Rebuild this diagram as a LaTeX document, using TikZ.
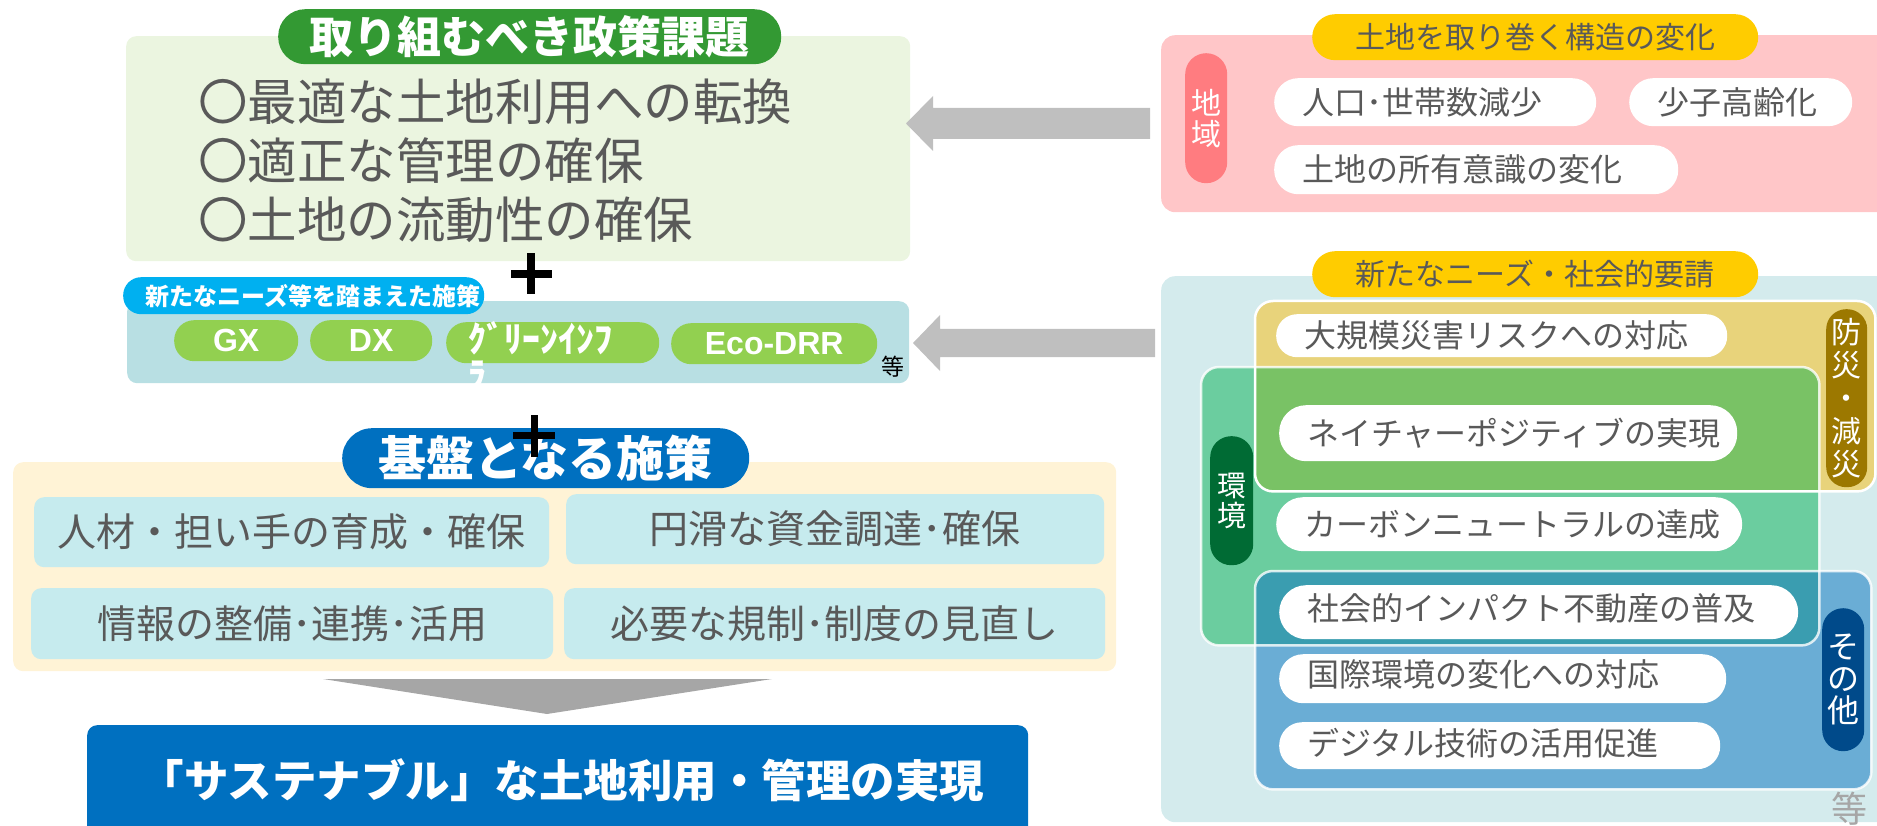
\documentclass[tikz,border=0pt]{standalone}
\usepackage{fontspec}
\setmainfont{Noto Sans CJK JP}
\newfontfamily\lat{Liberation Sans}
\usetikzlibrary{calc}
\definecolor{titlegreen}{HTML}{339933}
\definecolor{lgreen}{HTML}{EBF5E0}
\definecolor{gtext}{HTML}{595959}
\definecolor{skyblue}{HTML}{00B0F0}
\definecolor{bgteal}{HTML}{B8DFE3}
\definecolor{lime}{HTML}{92D050}
\definecolor{cream}{HTML}{FFF3D6}
\definecolor{cyanbox}{HTML}{C6EBEE}
\definecolor{dblue}{HTML}{0070C0}
\definecolor{pinkbox}{HTML}{FFC6C8}
\definecolor{ypill}{HTML}{FFCC00}
\definecolor{rpill}{HTML}{FF7C80}
\definecolor{rteal}{HTML}{D4EBED}
\definecolor{ybox}{HTML}{E8D37B}
\definecolor{gbox}{HTML}{6BCD9F}
\definecolor{ovg}{HTML}{79C265}
\definecolor{bbox}{HTML}{6AADD5}
\definecolor{ovb}{HTML}{3A9DB0}
\definecolor{gold}{HTML}{9C7800}
\definecolor{dgreen}{HTML}{006B34}
\definecolor{navy}{HTML}{004A8A}
\definecolor{arrgray}{HTML}{BFBFBF}
\definecolor{trigray}{HTML}{A6A6A6}
\newcommand\fsz[1]{\fontsize{#1}{#1}\selectfont}
\begin{document}
\begin{tikzpicture}[x=1pt,y=-1pt,
  box/.style={rectangle, draw=none, rounded corners=10pt, inner sep=0pt, anchor=north west},
  pill/.style={rectangle, draw=none, rounded corners=#1, inner sep=0pt, anchor=north west},
  txt/.style={inner sep=0pt, text=gtext},
  wtxt/.style={inner sep=0pt, text=white},
  plusbar/.style={fill=black},
  blockarrow/.style={fill=arrgray, draw=none},
  vlab/.style={inner sep=0pt, text=white, align=center},
]
\useasboundingbox (0,0) rectangle (1877,826);

% ---------------- left: policy issues ----------------
\node[box, fill=lgreen, minimum width=784pt, minimum height=225pt] (goal) at (126,36) {};
\node[pill=27pt, fill=titlegreen, minimum width=503pt, minimum height=55pt] (goalt) at (278,9) {};
\node[wtxt, font=\fsz{44}\bfseries] at (goalt.center) {取り組むべき政策課題};
\node[txt, anchor=west, font=\fsz{49.5}] (g1) at (198,102) {〇最適な土地利用への転換};
\node[txt, anchor=west, font=\fsz{49.5}] (g2) at (198,161) {〇適正な管理の確保};
\node[txt, anchor=west, font=\fsz{49.5}] (g3) at (198,220) {〇土地の流動性の確保};

% plus 1
\fill[plusbar] (511,270) rectangle (552,278);
\fill[plusbar] (527,253) rectangle (535,294);

% new needs measures
\node[box, fill=bgteal, minimum width=782pt, minimum height=82pt] (needs) at (127,301) {};
\node[pill=18pt, fill=skyblue, minimum width=361pt, minimum height=37pt] (needst) at (123,277) {};
\node[wtxt, anchor=west, font=\fsz{24}\bfseries] at ($(needst.west)+(22,0)$) {新たなニーズ等を踏まえた施策};
\node[pill=20pt, fill=lime, minimum width=124pt, minimum height=41pt] (gx) at (174,320) {};
\node[wtxt, font=\lat\fsz{32}\bfseries] at (gx.center) {GX};
\node[pill=20pt, fill=lime, minimum width=122pt, minimum height=41pt] (dx) at (310,320) {};
\node[wtxt, font=\lat\fsz{32}\bfseries] at (dx.center) {DX};
\node[pill=20pt, fill=lime, minimum width=213pt, minimum height=41pt] (gi) at (446,322) {};
\node[wtxt, anchor=north west, align=left, font=\fsz{36}\bfseries] at (468,321) {\fontsize{36}{31}\selectfont ｸﾞﾘｰﾝｲﾝﾌ\\ﾗ};
\node[pill=20pt, fill=lime, minimum width=206pt, minimum height=41pt] (eco) at (671,323) {};
\node[wtxt, font=\lat\fsz{32}\bfseries] at (eco.center) {Eco-DRR};
\node[inner sep=0pt, font=\fsz{23}] at (893,367) {等};

% base measures
\node[box, fill=cream, minimum width=1103pt, minimum height=209pt] (base) at (13,462) {};
\node[box, fill=cyanbox, minimum width=515pt, minimum height=70pt] (b1) at (34,497) {};
\node[box, fill=cyanbox, minimum width=538pt, minimum height=70pt] (b2) at (566,494) {};
\node[box, fill=cyanbox, minimum width=522pt, minimum height=71pt] (b3) at (31,588) {};
\node[box, fill=cyanbox, minimum width=541pt, minimum height=71pt] (b4) at (564,588) {};
\node[txt, font=\fsz{39}] at (b1.center) {人材・担い手の育成・確保};
\node[txt, font=\fsz{39}] at (b2.center) {円滑な資金調達･確保};
\node[txt, font=\fsz{39}] at (b3.center) {情報の整備･連携･活用};
\node[txt, font=\fsz{39}] at (b4.center) {必要な規制･制度の見直し};
\node[pill=30pt, fill=dblue, minimum width=407pt, minimum height=60pt] (baset) at (342,428) {};
\node[wtxt, font=\fsz{48}\bfseries] at (baset.center) {基盤となる施策};
% plus 2 (on top of the pill)
\fill[plusbar] (513,432) rectangle (555,439);
\fill[plusbar] (531,415) rectangle (538,457);

% down triangle and goal
\coordinate (triL) at (323,679);
\coordinate (triR) at (772,679);
\coordinate (triB) at (547,714);
\fill[trigray] (triL) -- (triR) -- (triB) -- cycle;
\node[box, fill=dblue, minimum width=941pt, minimum height=130pt] (final) at (87,725) {};
\node[wtxt, font=\fsz{44.5}\bfseries] at (562,780) {「サステナブル」な土地利用・管理の実現};

% ---------------- right: structure change ----------------
\node[box, rounded corners=14pt, fill=pinkbox, minimum width=730pt, minimum height=177pt] (chg) at (1161,35) {};
\node[pill=23pt, fill=ypill, minimum width=446pt, minimum height=46pt] (chgt) at (1312,14) {};
\node[txt, font=\fsz{30}] at (chgt.center) {土地を取り巻く構造の変化};
\node[pill=21pt, fill=rpill, minimum width=42pt, minimum height=130pt] (reg) at (1185,53) {};
\node[vlab, font=\fontsize{30}{31}\selectfont] at (reg.center) {地\\域};
\node[pill=24pt, fill=white, minimum width=322pt, minimum height=48pt] (c1) at (1274,78) {};
\node[txt, anchor=west, font=\fsz{32}] at ($(c1.west)+(28,0)$) {人口･世帯数減少};
\node[pill=24pt, fill=white, minimum width=223pt, minimum height=48pt] (c2) at (1629,78) {};
\node[txt, anchor=west, font=\fsz{32}] at ($(c2.west)+(28,0)$) {少子高齢化};
\node[pill=24pt, fill=white, minimum width=404pt, minimum height=49pt] (c3) at (1274,145) {};
\node[txt, anchor=west, font=\fsz{32}] at ($(c3.west)+(28,0)$) {土地の所有意識の変化};

% ---------------- right: new needs ----------------
\node[box, rounded corners=14pt, fill=rteal, minimum width=730pt, minimum height=546pt] (req) at (1161,276) {};
\node[pill=23pt, fill=ypill, minimum width=446pt, minimum height=46pt] (reqt) at (1312,251) {};
\node[txt, font=\fsz{30}] at (reqt.center) {新たなニーズ・社会的要請};

\node[box, rounded corners=18pt, fill=ybox, minimum width=620pt, minimum height=190pt] (disa) at (1255,301) {};
\node[box, rounded corners=18pt, fill=gbox, minimum width=618pt, minimum height=278pt] (env) at (1201,367) {};
\begin{scope}
  \clip[rounded corners=18pt] (disa.north west) rectangle (disa.south east);
  \fill[ovg, rounded corners=18pt] (env.north west) rectangle (env.south east);
\end{scope}
\node[box, rounded corners=18pt, fill=bbox, minimum width=616pt, minimum height=218pt] (oth) at (1255,571) {};
\begin{scope}
  \clip[rounded corners=18pt] (env.north west) rectangle (env.south east);
  \fill[ovb, rounded corners=18pt] (oth.north west) rectangle (oth.south east);
\end{scope}
\draw[white, line width=2.5pt, rounded corners=18pt] (disa.north west) rectangle (disa.south east);
\draw[white, opacity=0.8, line width=2.5pt, rounded corners=18pt] (env.north west) rectangle (env.south east);
\draw[white, opacity=0.8, line width=2.5pt, rounded corners=18pt] (oth.north west) rectangle (oth.south east);

\node[pill=20pt, fill=gold, minimum width=41pt, minimum height=178pt] (disal) at (1826,309) {};
\node[vlab, font=\fontsize{30}{33}\selectfont] at (disal.center) {防\\災\\・\\減\\災};
\node[pill=21pt, fill=dgreen, minimum width=43pt, minimum height=129pt] (envl) at (1210,436) {};
\node[vlab, font=\fontsize{29}{30}\selectfont] at (envl.center) {環\\境};
\node[pill=21pt, fill=navy, minimum width=42pt, minimum height=143pt] (othl) at (1822,608) {};
\node[vlab, font=\fontsize{32}{32}\selectfont] at (othl.center) {そ\\の\\他};

\node[pill=21pt, fill=white, minimum width=451pt, minimum height=43pt] (r1) at (1276,314) {};
\node[txt, anchor=west, font=\fsz{32}] at ($(r1.west)+(28,0)$) {大規模災害リスクへの対応};
\node[pill=27pt, fill=white, minimum width=458pt, minimum height=56pt] (r2) at (1279,405) {};
\node[txt, anchor=west, font=\fsz{32}] at ($(r2.west)+(28,0)$) {ネイチャーポジティブの実現};
\node[pill=27pt, fill=white, minimum width=466pt, minimum height=54pt] (r3) at (1276,497) {};
\node[txt, anchor=west, font=\fsz{32}] at ($(r3.west)+(28,0)$) {カーボンニュートラルの達成};
\node[pill=27pt, fill=white, minimum width=519pt, minimum height=54pt] (r4) at (1279,585) {};
\node[txt, anchor=west, font=\fsz{32}] at ($(r4.west)+(28,-4)$) {社会的インパクト不動産の普及};
\node[pill=24pt, fill=white, minimum width=447pt, minimum height=49pt] (r5) at (1279,654) {};
\node[txt, anchor=west, font=\fsz{32}] at ($(r5.west)+(28,-4)$) {国際環境の変化への対応};
\node[pill=23pt, fill=white, minimum width=441pt, minimum height=47pt] (r6) at (1279,722) {};
\node[txt, anchor=west, font=\fsz{32}] at ($(r6.west)+(28,-2)$) {デジタル技術の活用促進};
\node[inner sep=0pt, anchor=north, text=trigray, font=\fsz{36}] at (1849,792) {等};

% ---------------- block arrows ----------------
\coordinate (a1s) at (chg.west |- 0,123.5);
\coordinate (a1t) at (906,123.5);
\fill[blockarrow] ($(a1s)+(-11,-15.5)$) -- ($(a1t)+(27,-15.5)$) -- ($(a1t)+(27,-27.5)$) -- (a1t)
   -- ($(a1t)+(27,27.5)$) -- ($(a1t)+(27,15.5)$) -- ($(a1s)+(-11,15.5)$) -- cycle;
\coordinate (a2s) at (req.west |- 0,343);
\coordinate (a2t) at (913,343);
\fill[blockarrow] ($(a2s)+(-6,-14)$) -- ($(a2t)+(27,-14)$) -- ($(a2t)+(27,-28)$) -- (a2t)
   -- ($(a2t)+(27,28)$) -- ($(a2t)+(27,14)$) -- ($(a2s)+(-6,14)$) -- cycle;
\end{tikzpicture}
\end{document}
